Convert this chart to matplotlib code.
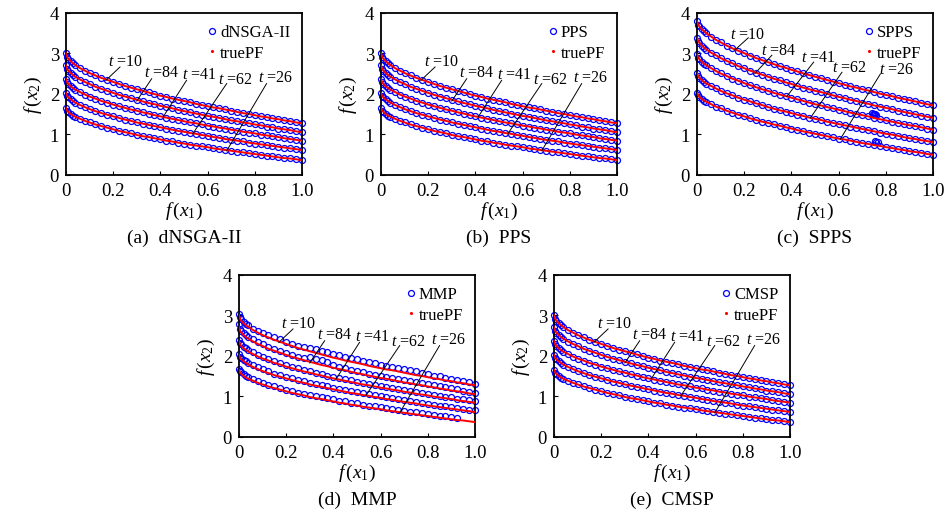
import matplotlib.pyplot as plt
from matplotlib.lines import Line2D

plt.rcParams['font.family'] = ['Liberation Serif', 'DejaVu Serif']
plt.rcParams['mathtext.fontset'] = 'custom'
plt.rcParams['mathtext.rm'] = 'Liberation Serif'
plt.rcParams['mathtext.it'] = 'Liberation Serif:italic'

# ---- data ----
f1 = [0, 0.005, 0.01, 0.02, 0.03, 0.04, 0.06, 0.08, 0.1, 0.125, 0.15, 0.175, 0.2, 0.225,
      0.25, 0.275, 0.3, 0.325, 0.35, 0.375, 0.4, 0.425, 0.45, 0.475, 0.5, 0.525, 0.55,
      0.575, 0.6, 0.625, 0.65, 0.675, 0.7, 0.725, 0.75, 0.775, 0.8, 0.825, 0.85, 0.875,
      0.9, 0.925, 0.95, 0.975, 1.0]
times = ['10', '84', '41', '62', '26']

# true PF, environments t=10, 84, 41, 62, 26
pf_t10 = [3.00, 2.91, 2.86, 2.80, 2.75, 2.71, 2.63, 2.57, 2.51, 2.45, 2.39, 2.34, 2.29, 2.24, 2.19,
          2.15, 2.11, 2.07, 2.03, 1.99, 1.95, 1.92, 1.88, 1.85, 1.82, 1.79, 1.75, 1.72, 1.69, 1.66,
          1.64, 1.61, 1.58, 1.55, 1.52, 1.50, 1.47, 1.44, 1.42, 1.39, 1.37, 1.34, 1.32, 1.29, 1.27]
pf_t84 = [2.70, 2.61, 2.57, 2.51, 2.46, 2.42, 2.35, 2.29, 2.24, 2.17, 2.12, 2.07, 2.02, 1.97, 1.93,
          1.89, 1.85, 1.81, 1.77, 1.74, 1.70, 1.67, 1.64, 1.60, 1.57, 1.54, 1.51, 1.48, 1.45, 1.43,
          1.40, 1.37, 1.34, 1.32, 1.29, 1.27, 1.24, 1.22, 1.19, 1.17, 1.14, 1.12, 1.10, 1.07, 1.05]
pf_t41 = [2.36, 2.28, 2.24, 2.18, 2.14, 2.10, 2.04, 1.98, 1.93, 1.88, 1.82, 1.78, 1.73, 1.69, 1.65,
          1.61, 1.58, 1.54, 1.51, 1.47, 1.44, 1.41, 1.38, 1.35, 1.32, 1.29, 1.27, 1.24, 1.21, 1.19,
          1.16, 1.14, 1.11, 1.09, 1.06, 1.04, 1.02, 0.99, 0.97, 0.95, 0.93, 0.90, 0.88, 0.86, 0.84]
pf_t62 = [2.02, 1.94, 1.91, 1.86, 1.82, 1.78, 1.72, 1.67, 1.62, 1.57, 1.52, 1.48, 1.44, 1.40, 1.36,
          1.33, 1.29, 1.26, 1.23, 1.20, 1.17, 1.14, 1.11, 1.08, 1.06, 1.03, 1.01, 0.98, 0.96, 0.93,
          0.91, 0.88, 0.86, 0.84, 0.82, 0.79, 0.77, 0.75, 0.73, 0.71, 0.69, 0.67, 0.65, 0.63, 0.61]
pf_t26 = [1.65, 1.58, 1.55, 1.50, 1.46, 1.43, 1.38, 1.33, 1.29, 1.24, 1.20, 1.16, 1.12, 1.08, 1.05,
          1.02, 0.98, 0.95, 0.93, 0.90, 0.87, 0.84, 0.82, 0.79, 0.77, 0.74, 0.72, 0.70, 0.68, 0.65,
          0.63, 0.61, 0.59, 0.57, 0.55, 0.53, 0.51, 0.49, 0.47, 0.45, 0.43, 0.41, 0.40, 0.38, 0.36]

# true PF of the SPPS run
spps_t10 = [3.79, 3.70, 3.66, 3.59, 3.54, 3.49, 3.41, 3.33, 3.27, 3.19, 3.12, 3.06, 3.00, 2.94, 2.88,
            2.83, 2.78, 2.73, 2.68, 2.64, 2.59, 2.55, 2.50, 2.46, 2.42, 2.38, 2.34, 2.30, 2.26, 2.22,
            2.18, 2.15, 2.11, 2.08, 2.04, 2.00, 1.97, 1.94, 1.90, 1.87, 1.84, 1.81, 1.77, 1.74, 1.71]
spps_t84 = [3.38, 3.30, 3.26, 3.19, 3.14, 3.09, 3.01, 2.95, 2.88, 2.81, 2.75, 2.68, 2.63, 2.57, 2.52,
            2.47, 2.42, 2.37, 2.33, 2.28, 2.24, 2.19, 2.15, 2.11, 2.07, 2.04, 2.00, 1.96, 1.92, 1.89,
            1.85, 1.82, 1.78, 1.75, 1.71, 1.68, 1.65, 1.62, 1.58, 1.55, 1.52, 1.49, 1.46, 1.43, 1.40]
spps_t41 = [2.97, 2.89, 2.85, 2.79, 2.74, 2.70, 2.63, 2.56, 2.50, 2.44, 2.37, 2.32, 2.26, 2.21, 2.16,
            2.11, 2.07, 2.02, 1.98, 1.94, 1.90, 1.86, 1.82, 1.78, 1.74, 1.71, 1.67, 1.64, 1.60, 1.57,
            1.53, 1.50, 1.47, 1.44, 1.40, 1.37, 1.34, 1.31, 1.28, 1.25, 1.22, 1.20, 1.17, 1.14, 1.11]
spps_t62 = [2.50, 2.43, 2.39, 2.34, 2.29, 2.25, 2.19, 2.13, 2.07, 2.01, 1.96, 1.90, 1.85, 1.81, 1.76,
            1.72, 1.67, 1.63, 1.59, 1.56, 1.52, 1.48, 1.45, 1.41, 1.38, 1.35, 1.31, 1.28, 1.25, 1.22,
            1.19, 1.16, 1.13, 1.10, 1.07, 1.04, 1.01, 0.99, 0.96, 0.93, 0.90, 0.88, 0.85, 0.83, 0.80]
spps_t26 = [2.02, 1.96, 1.92, 1.87, 1.83, 1.80, 1.74, 1.68, 1.64, 1.58, 1.53, 1.48, 1.44, 1.39, 1.35,
            1.31, 1.28, 1.24, 1.21, 1.17, 1.14, 1.10, 1.07, 1.04, 1.01, 0.98, 0.95, 0.92, 0.89, 0.87,
            0.84, 0.81, 0.78, 0.76, 0.73, 0.71, 0.68, 0.66, 0.63, 0.61, 0.58, 0.56, 0.54, 0.51, 0.49]
# SPPS solutions that sit off the front
spps_off_f1 = [0.74, 0.745, 0.75, 0.755, 0.76, 0.755, 0.76, 0.765]
spps_off_f2 = [1.52, 1.51, 1.50, 1.49, 1.47, 0.82, 0.81, 0.80]

# MMP obtained fronts
mmp_t10 = [3.04, 2.95, 2.90, 2.84, 2.79, 2.75, 2.67, 2.61, 2.55, 2.51, 2.45, 2.40, 2.35, 2.30, 2.25,
           2.21, 2.20, 2.16, 2.12, 2.08, 2.04, 2.01, 1.97, 1.94, 1.91, 1.88, 1.84, 1.81, 1.78, 1.75,
           1.73, 1.70, 1.67, 1.64, 1.61, 1.58, 1.55, 1.51, 1.49, 1.45, 1.42, 1.39, 1.37, 1.34, 1.31]
mmp_t84 = [2.78, 2.67, 2.62, 2.56, 2.51, 2.47, 2.40, 2.34, 2.29, 2.22, 2.17, 2.12, 2.07, 2.02, 1.98,
           1.95, 1.97, 1.93, 1.89, 1.85, 1.76, 1.72, 1.69, 1.65, 1.62, 1.59, 1.56, 1.53, 1.50, 1.48,
           1.45, 1.42, 1.39, 1.37, 1.34, 1.32, 1.29, 1.27, 1.24, 1.22, 1.19, 1.17, 1.14, 1.11, 1.08]
mmp_t41 = [2.38, 2.32, 2.28, 2.22, 2.18, 2.14, 2.08, 2.02, 1.97, 1.92, 1.86, 1.82, 1.77, 1.73, 1.69,
           1.65, 1.62, 1.58, 1.55, 1.51, 1.48, 1.45, 1.42, 1.39, 1.36, 1.33, 1.31, 1.28, 1.25, 1.23,
           1.20, 1.18, 1.15, 1.13, 1.10, 1.08, 1.06, 1.03, 1.01, 0.99, 0.97, 0.94, 0.92, 0.90, 0.87]
mmp_t62 = [2.05, 1.98, 1.95, 1.90, 1.86, 1.82, 1.76, 1.71, 1.66, 1.61, 1.56, 1.52, 1.48, 1.44, 1.40,
           1.37, 1.33, 1.30, 1.27, 1.24, 1.21, 1.18, 1.15, 1.12, 1.10, 1.07, 1.05, 1.02, 1.00, 0.97,
           0.95, 0.92, 0.90, 0.88, 0.86, 0.83, 0.81, 0.79, 0.77, 0.75, 0.73, 0.71, 0.69, 0.67, 0.65]
mmp_t26 = [1.67, 1.62, 1.59, 1.54, 1.50, 1.47, 1.42, 1.37, 1.33, 1.28, 1.24, 1.20, 1.16, 1.12, 1.09,
           1.06, 1.03, 1.00, 0.98, 0.95, 0.92, 0.89, 0.87, 0.84, 0.82, 0.79, 0.77, 0.75, 0.73, 0.70,
           0.68, 0.66, 0.64, 0.62, 0.60, 0.58, 0.56, 0.54, 0.52, 0.50, 0.48, 0.46]

true_std = [pf_t10, pf_t84, pf_t41, pf_t62, pf_t26]
true_spps = [spps_t10, spps_t84, spps_t41, spps_t62, spps_t26]
mmp_sets = [mmp_t10, mmp_t84, mmp_t41, mmp_t62, mmp_t26]

# label text position (x, y) and leader line end (x, y) for each environment
labels_std = [((0.18, 2.81), (0.229, 2.66), (0.169, 2.33)),
              ((0.33, 2.53), (0.363, 2.37), (0.30, 1.82)),
              ((0.49, 2.49), (0.511, 2.33), (0.412, 1.43)),
              ((0.645, 2.37), (0.681, 2.25), (0.537, 1.01)),
              ((0.815, 2.42), (0.85, 2.25), (0.681, 0.59))]
labels_spps = [((0.14, 3.48), (0.217, 3.38), (0.16, 3.08)),
               ((0.27, 3.07), (0.317, 2.95), (0.245, 2.50)),
               ((0.44, 2.90), (0.494, 2.78), (0.38, 1.93)),
               ((0.57, 2.66), (0.614, 2.53), (0.48, 1.40)),
               ((0.77, 2.60), (0.777, 2.49), (0.607, 0.88))]

panels = [
    ('dNSGA-II', '(a)', true_std, true_std, labels_std, [0.0695, 0.6555]),
    ('PPS', '(b)', true_std, true_std, labels_std, [0.4015, 0.6555]),
    ('SPPS', '(c)', true_spps, true_spps, labels_spps, [0.7345, 0.6555]),
    ('MMP', '(d)', mmp_sets, true_std, labels_std, [0.2518, 0.1418]),
    ('CMSP', '(e)', true_std, true_std, labels_std, [0.5838, 0.1418]),
]

circle = dict(ls='none', marker='o', ms=4.3, mfc='none', mec='blue', mew=0.9)

fig = plt.figure(figsize=(9.49, 5.10), dpi=100)

for name, tag, obtained, truepf, labels, (left, bottom) in panels:
    ax = fig.add_axes([left, bottom, 0.2487, 0.3176])
    for vals in obtained:
        ax.plot(f1[:len(vals)], vals, clip_on=False, zorder=2, **circle)
    if name == 'SPPS':
        ax.plot(spps_off_f1, spps_off_f2, zorder=2, **circle)
    for vals in truepf:
        ax.plot(f1, vals, color='red', lw=1.4, zorder=3)

    for t, (txt, start, end) in zip(times, labels):
        ax.text(txt[0], txt[1], r'$t$ =' + t, fontsize=11.5, va='center', ha='left', zorder=4)
        ax.plot([start[0], end[0]], [start[1], end[1]], color='black', lw=0.7, zorder=4)

    ax.set_xlim(0, 1)
    ax.set_ylim(0, 4)
    ax.set_xticks([0, 0.2, 0.4, 0.6, 0.8, 1.0])
    ax.set_xticklabels(['0', '0.2', '0.4', '0.6', '0.8', '1.0'])
    ax.set_yticks([0, 1, 2, 3, 4])
    ax.tick_params(direction='in', length=3, width=0.8, labelsize=13.5, pad=5)
    for sp in ax.spines.values():
        sp.set_linewidth(1.3)
    ax.set_xlabel(r'$f\,(x_1)$', fontsize=14, labelpad=1)
    ax.set_ylabel(r'$f\,(x_2)$', fontsize=14, labelpad=4)

    handles = [Line2D([], [], **circle),
               Line2D([], [], ls='none', marker='.', ms=2.5, color='red')]
    ax.legend(handles, [name, 'truePF'], loc='upper right', frameon=False, fontsize=12,
              handlelength=0.6, handletextpad=0.2, borderaxespad=0.3, labelspacing=0.25)

    ax.text(0.5, -0.385, tag + '  ' + name, transform=ax.transAxes, ha='center', va='center',
            fontsize=14)

fig.savefig('out.png', dpi=100)
